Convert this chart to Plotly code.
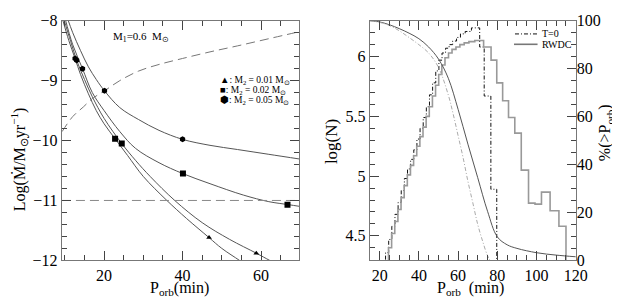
import plotly.graph_objects as go

# ---------------- Left panel data ----------------
c1_p = [10.6, 12, 14, 16, 18, 20.1, 24, 28.8, 34, 40, 47, 54, 62, 70]
c1_m = [-7.95, -8.2, -8.5, -8.77, -8.98, -9.17, -9.45, -9.65, -9.83, -9.98, -10.08, -10.15, -10.23, -10.31]
c2_p = [10.0, 12, 14.5, 17, 20, 24, 28, 34, 40, 47, 55.5, 62, 67, 70]
c2_m = [-7.95, -8.4, -8.8, -9.2, -9.5, -9.85, -10.13, -10.37, -10.55, -10.72, -10.91, -11.02, -11.07, -11.1]
c3_p = [9.6, 11.5, 13, 15, 17, 20, 24.5, 28, 31.75, 38, 45, 52, 58.8, 62.2, 64]
c3_m = [-7.95, -8.35, -8.66, -8.98, -9.27, -9.63, -10.05, -10.33, -10.6, -11.0, -11.37, -11.65, -11.88, -12.0, -12.06]
c4_p = [9.3, 11, 12.6, 14, 16, 18, 20, 22.8, 26, 30, 36, 41, 46.75, 50, 54.5, 56]
c4_m = [-7.95, -8.33, -8.63, -8.9, -9.22, -9.5, -9.72, -9.97, -10.25, -10.6, -11.0, -11.3, -11.62, -11.8, -12.0, -12.07]
dash_p = [9.3, 12, 14.7, 17, 20.1, 24, 28.8, 34, 40, 47, 54, 62, 70]
dash_m = [-9.85, -9.6, -9.44, -9.3, -9.17, -9.0, -8.84, -8.73, -8.63, -8.52, -8.42, -8.3, -8.18]
limit_p = [9.25, 69.75]
limit_m = [-11.0, -11.0]

hex_p = [12.6, 13.0, 14.5, 20.1, 40.0]
hex_m = [-8.63, -8.66, -8.80, -9.17, -9.98]
sq_p = [22.8, 24.5, 40.1, 66.75]
sq_m = [-9.97, -10.05, -10.55, -11.07]
tri_p = [46.75, 58.8]
tri_m = [-11.62, -11.88]

# ---------------- Right panel data ----------------
t0_edges = [23.0, 24.6, 26.2, 27.8, 29.4, 31.0, 32.6, 34.2, 35.8, 37.4, 39.0, 40.6, 42.2, 43.8,
            45.4, 47.0, 48.6, 50.2, 51.8, 53.6, 55.4, 57.2, 59.2, 61.2, 63.6, 66.8, 71.0, 73.3,
            76.7, 79.7]
t0_logn = [4.36, 4.47, 4.58, 4.68, 4.78, 4.88, 4.98, 5.06, 5.14, 5.22, 5.31, 5.40, 5.49,
           5.58, 5.68, 5.78, 5.88, 5.97, 6.03, 6.07, 6.10, 6.13, 6.16, 6.19, 6.21, 6.24, 6.08,
           5.67, 4.89]
rw_edges = [24.5, 26.1, 27.7, 29.3, 30.9, 32.5, 34.1, 35.7, 37.3, 38.9, 40.5, 42.1, 43.7, 45.3,
            46.9, 48.5, 50.1, 51.7, 53.3, 55.1, 56.9, 58.9, 60.9, 63.1, 65.5, 68.5, 73.0, 76.8,
            79.7, 82.7, 85.7, 88.9, 92.2, 95.9, 99.2, 102.5, 106.9, 111.4, 115.0]
rw_logn = [4.40, 4.52, 4.62, 4.72, 4.82, 4.92, 5.01, 5.09, 5.17, 5.25, 5.33, 5.41, 5.50,
           5.58, 5.67, 5.76, 5.85, 5.93, 5.99, 6.03, 6.06, 6.08, 6.10, 6.115, 6.125, 6.134,
           6.08, 5.97, 5.78, 5.63, 5.49, 5.36, 5.05, 4.774, 4.766, 4.866, 4.71, 4.58]

cum_t0_p = [15, 20, 25, 30, 35, 40, 45, 50, 55, 57.5, 60, 62.5, 65, 67.5, 70, 72.5, 75, 76.5, 120]
cum_t0_pct = [100, 99.3, 98, 95.8, 93, 90, 86.5, 80.5, 69, 61, 52, 43, 33, 24, 15, 8, 2, 0, 0]
cum_rw_p = [15, 20, 25, 30, 35, 40, 45, 50, 55, 60, 65, 70, 75, 80, 85, 90, 100, 110, 120]
cum_rw_pct = [100, 99.5, 98.3, 96.7, 94.8, 92.5, 89.0, 84, 76, 63, 48.5, 34.5, 20.5, 9.8, 6.5, 5.0, 3.2, 2.2, 1.5]

W, H = 620, 301
def px(x): return x / W
def py(y): return 1 - y / H

BASE = 4.0
def steps(edges, vals):
    return [edges[0]] + list(edges), [BASE] + list(vals) + [BASE]

fig = go.Figure()
CUR = '#555555'
for p, m in [(c1_p, c1_m), (c2_p, c2_m), (c3_p, c3_m), (c4_p, c4_m)]:
    fig.add_trace(go.Scatter(x=p, y=m, mode='lines', line=dict(color=CUR, width=1, shape='spline'),
                             xaxis='x', yaxis='y', showlegend=False))
fig.add_trace(go.Scatter(x=dash_p, y=dash_m, mode='lines',
                         line=dict(color='#777777', width=1, dash='9px,5px', shape='spline'),
                         xaxis='x', yaxis='y', showlegend=False))
fig.add_trace(go.Scatter(x=limit_p, y=limit_m, mode='lines',
                         line=dict(color='#888888', width=1, dash='9px,5px'),
                         xaxis='x', yaxis='y', showlegend=False))
fig.add_trace(go.Scatter(x=hex_p, y=hex_m, mode='markers', marker=dict(symbol='hexagon', size=6, color='black'),
                         xaxis='x', yaxis='y', showlegend=False))
fig.add_trace(go.Scatter(x=sq_p, y=sq_m, mode='markers', marker=dict(symbol='square', size=6, color='black'),
                         xaxis='x', yaxis='y', showlegend=False))
fig.add_trace(go.Scatter(x=tri_p, y=tri_m, mode='markers', marker=dict(symbol='triangle-up', size=5, color='black'),
                         xaxis='x', yaxis='y', showlegend=False))

# right panel
hx, hy = steps(t0_edges, t0_logn)
fig.add_trace(go.Scatter(x=hx, y=hy, mode='lines', line=dict(color='#111111', width=1, dash='4px,2px,1px,2px', shape='hv'),
                         xaxis='x2', yaxis='y2', showlegend=False))
hx, hy = steps(rw_edges, rw_logn)
fig.add_trace(go.Scatter(x=hx, y=hy, mode='lines', line=dict(color='#999999', width=1.6, shape='hv'),
                         xaxis='x2', yaxis='y2', showlegend=False))
fig.add_trace(go.Scatter(x=cum_rw_p, y=cum_rw_pct, mode='lines', line=dict(color='#555555', width=1, shape='spline'),
                         xaxis='x2', yaxis='y3', showlegend=False))
fig.add_trace(go.Scatter(x=cum_t0_p, y=cum_t0_pct, mode='lines',
                         line=dict(color='#aaaaaa', width=1, dash='4px,2px,1px,2px', shape='spline'),
                         xaxis='x2', yaxis='y3', showlegend=False))

FONT = 'Liberation Serif'
AX = dict(showline=True, linecolor='#777777', linewidth=1.3, ticks='inside', tickcolor='#444444',
          ticklen=9, tickwidth=1, showgrid=False, zeroline=False, ticklabeloverflow='allow',
          tickfont=dict(family=FONT, size=16, color='black'))
MINOR = dict(ticks='inside', tick0=0, ticklen=5, tickcolor='#444444')

fig.update_layout(
    width=W, height=H, margin=dict(l=0, r=0, t=0, b=0),
    paper_bgcolor='white', plot_bgcolor='white', showlegend=False,
    xaxis=dict(AX, domain=[px(55), px(297)], range=[9.25, 69.75], tickvals=[20, 40, 60],
               minor=dict(MINOR, dtick=5), mirror='ticks', anchor='y'),
    yaxis=dict(AX, domain=[py(259), py(5)], range=[-12, -8], tickvals=[-8, -9, -10, -11, -12],
               minor=dict(MINOR, dtick=0.2), mirror='ticks', anchor='x'),
    xaxis2=dict(AX, domain=[px(369), px(579)], range=[15, 120], tickvals=[20, 40, 60, 80, 100, 120],
                minor=dict(MINOR, dtick=5), mirror='ticks', anchor='y2'),
    yaxis2=dict(AX, domain=[py(259), py(5)], range=[4.295, 6.30], tickvals=[4.5, 5, 5.5, 6],
                ticktext=['4.5', '5', '5.5', '6'],
                minor=dict(MINOR, dtick=0.1), mirror=True, anchor='x2'),
    yaxis3=dict(AX, domain=[py(259), py(5)], range=[0, 100], tickvals=[0, 20, 40, 60, 80, 100],
                minor=dict(MINOR, dtick=5),
                overlaying='y2', side='right', anchor='x2', showline=False),
)

ann = []
def A(x, y, text, size=17, xanchor='center', yanchor='middle', textangle=0):
    ann.append(dict(x=px(x), y=py(y), xref='paper', yref='paper', text=text, showarrow=False,
                    xanchor=xanchor, yanchor=yanchor, textangle=textangle,
                    font=dict(family=FONT, size=size, color='black')))

A(175, 289, 'P<sub>orb</sub>(min)', size=16)
A(472, 289, 'P<sub>orb</sub>  (min)', size=16)
A(12, 152, 'Log(Ṁ/M<sub>⊙</sub>yr<sup>−1</sup>)', size=16, textangle=-90)
A(330, 133, 'log(N)', textangle=-90)
A(610, 124, '%(>P<sub>orb</sub>)', size=16, textangle=-90)
A(136, 22, 'M<sub>1</sub>=0.6  M<sub>⊙</sub>', size=11)
A(214, 68, '▲: M<sub>2</sub> = 0.01 M<sub>⊙</sub>', size=9.5, xanchor='left')
A(214, 79, '■: M<sub>2</sub> = 0.02 M<sub>⊙</sub>', size=9.5, xanchor='left')
A(214, 90, '⬢: M<sub>2</sub> = 0.05 M<sub>⊙</sub>', size=9.5, xanchor='left')
A(543, 19, 'T=0', size=10, xanchor='left')
A(542, 30, 'RWDC', size=10, xanchor='left')
fig.update_layout(annotations=ann)

fig.add_shape(type='line', xref='paper', yref='paper', x0=px(517), x1=px(540), y0=py(19), y1=py(19),
              line=dict(color='#111111', width=1, dash='4px,2px,1px,2px'))
fig.add_shape(type='line', xref='paper', yref='paper', x0=px(516), x1=px(540), y0=py(30), y1=py(30),
              line=dict(color='#777777', width=1.6))

fig.write_html('out.html')
